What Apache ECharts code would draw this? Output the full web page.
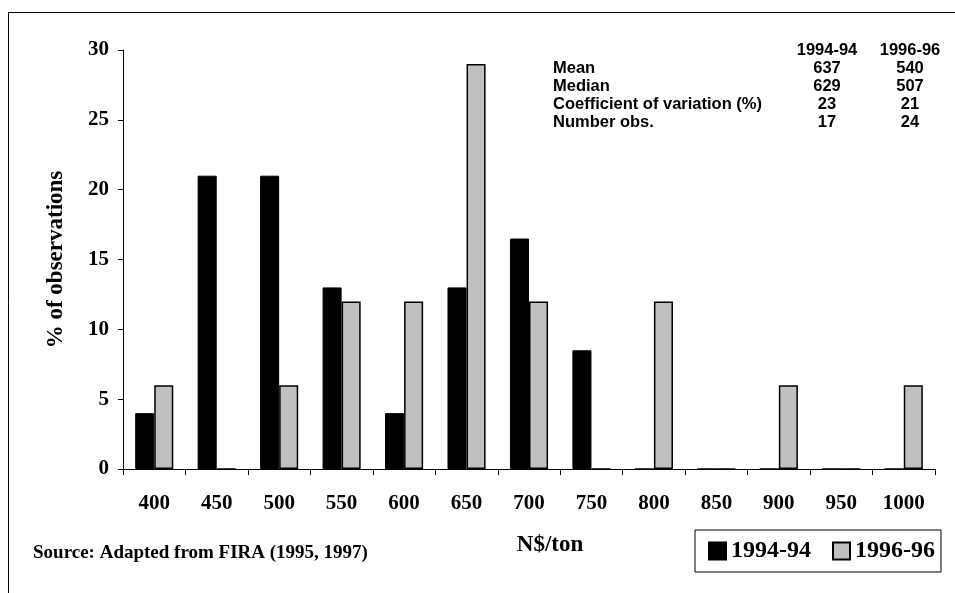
<!DOCTYPE html>
<html>
<head>
<meta charset="utf-8">
<title>N$/ton distribution</title>
<script src="https://cdn.jsdelivr.net/npm/echarts@6/dist/echarts.min.js"></script>
<style>
    html, body { margin: 0; padding: 0; background: #fff; }
    #chartDiv { width: 955px; height: 593px; }
</style>
</head>
<body>
<div id="chartDiv"></div>
<script>
// price classes (N$/ton) and % of observations per period
var priceClasses = ['400', '450', '500', '550', '600', '650', '700', '750', '800', '850', '900', '950', '1000'];
var obs9494 = [4, 21, 21, 13, 4, 13, 16.5, 8.5, 0, 0, 0, 0, 0];
var obs9696 = [6, 0, 6, 12, 12, 29, 12, 0, 12, 0, 6, 0, 6];

// summary table, top right
var statRows = ['Mean', 'Median', 'Coefficient of variation (%)', 'Number obs.'];
var stat9494 = ['637', '629', '23', '17'];
var stat9696 = ['540', '507', '21', '24'];
var periods = ['1994-94', '1996-96'];

var serif = '"Liberation Serif", "DejaVu Serif", serif';
var sans = '"Liberation Sans", Arial, sans-serif';

function cell(x, y, txt, align) {
    return {
        type: 'text', x: x, y: y,
        style: { text: txt, font: 'bold 16.5px ' + sans, fill: '#000', align: align, verticalAlign: 'middle' }
    };
}

function statTable() {
    var items = [];
    var x0 = 553, c1 = 827, c2 = 910, y0 = 50, dy = 18;
    items.push(cell(c1, y0, periods[0], 'center'));
    items.push(cell(c2, y0, periods[1], 'center'));
    for (var i = 0; i < statRows.length; i++) {
        var y = y0 + dy * (i + 1);
        items.push(cell(x0, y, statRows[i], 'left'));
        items.push(cell(c1, y, stat9494[i], 'center'));
        items.push(cell(c2, y, stat9696[i], 'center'));
    }
    return items;
}

var myChart = echarts.init(document.getElementById('chartDiv'));

myChart.setOption({
    animation: false,
    backgroundColor: '#fff',
    grid: {
        left: 123,
        right: 20,
        top: 50,
        bottom: 124
    },
    legend: {
        left: 695,
        top: 530,
        data: periods,
        icon: 'rect',
        itemWidth: 17,
        itemHeight: 17,
        itemGap: 21,
        padding: [9, 6, 9, 13],
        borderColor: '#000',
        borderWidth: 1,
        borderRadius: 0,
        textStyle: {
            fontFamily: serif,
            fontWeight: 'bold',
            fontSize: 24,
            color: '#000'
        }
    },
    xAxis: {
        type: 'category',
        data: priceClasses,
        axisLine: { lineStyle: { color: '#000', width: 1 } },
        axisTick: { show: true, inside: false, length: 6, lineStyle: { color: '#000' } },
        axisLabel: {
            margin: 24,
            fontFamily: serif,
            fontWeight: 'bold',
            fontSize: 21,
            color: '#000'
        },
        splitLine: { show: false }
    },
    yAxis: {
        type: 'value',
        min: 0,
        max: 30,
        interval: 5,
        name: '% of observations',
        nameLocation: 'middle',
        nameGap: 55,
        nameTextStyle: {
            fontFamily: serif,
            fontWeight: 'bold',
            fontSize: 23,
            color: '#000'
        },
        axisLine: { show: true, lineStyle: { color: '#000', width: 1 } },
        axisTick: { show: true, length: 5, lineStyle: { color: '#000' } },
        axisLabel: {
            margin: 14,
            fontFamily: serif,
            fontWeight: 'bold',
            fontSize: 21,
            color: '#000'
        },
        splitLine: { show: false }
    },
    series: [
        {
            name: periods[0],
            type: 'bar',
            data: obs9494,
            barGap: '0%',
            barCategoryGap: '39%',
            itemStyle: { color: '#000', borderColor: '#000', borderWidth: 1 }
        },
        {
            name: periods[1],
            type: 'bar',
            data: obs9696,
            barGap: '0%',
            barCategoryGap: '39%',
            itemStyle: { color: '#c0c0c0', borderColor: '#000', borderWidth: 1.5 }
        }
    ],
    graphic: [
        // frame lines (top and left)
        { type: 'line', shape: { x1: 8, y1: 12.5, x2: 955, y2: 12.5 }, style: { stroke: '#000', lineWidth: 1 } },
        { type: 'line', shape: { x1: 8.5, y1: 12, x2: 8.5, y2: 593 }, style: { stroke: '#000', lineWidth: 1 } },
        { type: 'text', x: 33, y: 553, style: { text: 'Source: Adapted from FIRA (1995, 1997)', font: 'bold 19px ' + serif, fill: '#000', verticalAlign: 'middle' } },
        { type: 'text', x: 550, y: 545, style: { text: 'N$/ton', font: 'bold 23px ' + serif, fill: '#000', align: 'center', verticalAlign: 'middle' } }
    ].concat(statTable())
});
</script>
</body>
</html>
